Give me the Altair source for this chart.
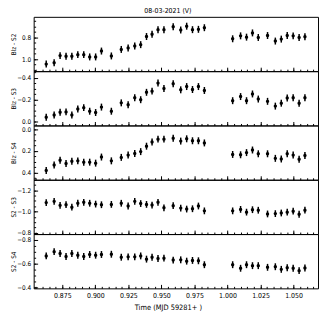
import altair as alt
import pandas as pd
import numpy as np

# Time (MJD 59281+)
T = [0.8628, 0.8688, 0.8733, 0.8778, 0.8822, 0.8867, 0.8912, 0.8957, 0.9002, 0.9046,
     0.9121, 0.9196, 0.9248, 0.9298, 0.9343, 0.9387, 0.9429, 0.9474, 0.9519, 0.9589,
     0.9646, 0.9691, 0.9735, 0.9780, 0.9825, 1.0039, 1.0099, 1.0144, 1.0189, 1.0233,
     1.0303, 1.0362, 1.0407, 1.0452, 1.0497, 1.0542, 1.0586]

BLZ_S2 = [1.045, 1.033, 0.967, 0.973, 0.973, 0.958, 0.958, 0.979, 0.979, 0.925,
          0.970, 0.910, 0.896, 0.878, 0.866, 0.791, 0.770, 0.728, 0.728, 0.701,
          0.731, 0.696, 0.728, 0.725, 0.710, 0.812, 0.785, 0.797, 0.758, 0.800,
          0.782, 0.833, 0.815, 0.782, 0.785, 0.800, 0.794]

BLZ_S3 = [-0.035, -0.056, -0.082, -0.085, -0.056, -0.112, -0.124, -0.091, -0.079, -0.129,
          -0.091, -0.168, -0.150, -0.215, -0.197, -0.265, -0.276, -0.350, -0.300, -0.344,
          -0.288, -0.318, -0.291, -0.318, -0.282, -0.188, -0.226, -0.188, -0.250, -0.203,
          -0.182, -0.138, -0.165, -0.212, -0.215, -0.165, -0.215]

BLZ_S4 = [0.379, 0.329, 0.285, 0.315, 0.294, 0.291, 0.303, 0.303, 0.312, 0.256,
          0.291, 0.259, 0.238, 0.224, 0.206, 0.156, 0.118, 0.091, 0.091, 0.082,
          0.109, 0.088, 0.106, 0.106, 0.126, 0.232, 0.235, 0.215, 0.191, 0.226,
          0.226, 0.268, 0.274, 0.226, 0.238, 0.276, 0.241]

S2_S3 = [-1.084, -1.096, -1.058, -1.064, -1.041, -1.078, -1.087, -1.078, -1.070, -1.064,
         -1.067, -1.078, -1.052, -1.096, -1.075, -1.067, -1.061, -1.087, -1.035, -1.055,
         -1.032, -1.023, -1.026, -1.052, -1.006, -1.006, -1.020, -0.994, -1.017, -1.012,
         -0.977, -0.980, -0.986, -0.994, -1.003, -0.974, -1.012]

S2_S4 = [-0.663, -0.699, -0.683, -0.658, -0.683, -0.669, -0.658, -0.675, -0.669, -0.675,
         -0.677, -0.652, -0.655, -0.655, -0.663, -0.636, -0.652, -0.641, -0.644, -0.628,
         -0.630, -0.619, -0.625, -0.622, -0.589, -0.589, -0.559, -0.589, -0.581, -0.581,
         -0.567, -0.572, -0.550, -0.564, -0.559, -0.539, -0.561]

LABELS = ["Blz - S2", "Blz - S3", "Blz - S4", "S2 - S3", "S2 - S4"]
SERIES = [BLZ_S2, BLZ_S3, BLZ_S4, S2_S3, S2_S4]
Y_DOMAINS = [[0.61, 1.11], [-0.46, 0.04], [-0.035, 0.465], [-1.30, -0.787], [-0.847, -0.39]]
Y_MAJOR = [[0.8, 1.0], [-0.4, -0.2, 0.0], [0.0, 0.2, 0.4], [-1.2, -1.0, -0.8], [-0.8, -0.6, -0.4]]
ERR = [0.032, 0.032, 0.032, 0.032, 0.029]

X_DOMAIN = [0.8533, 1.0685]
X_MAJOR = [0.875, 0.900, 0.925, 0.950, 0.975, 1.000, 1.025, 1.050]

TITLE = "08-03-2021  (V)"
X_TITLE = "Time (MJD 59281+ )"

FONT = "DejaVu Sans Condensed, DejaVu Sans"
W, H = 288, 55


def minor_ticks(lo, hi, step):
    a = np.ceil(lo / step - 1e-9) * step
    return [round(float(v), 4) for v in np.arange(a, hi + 1e-9, step)]


X_MINOR = minor_ticks(X_DOMAIN[0], X_DOMAIN[1], 0.005)


def panel(i):
    vals = SERIES[i]
    err = ERR[i]
    df = pd.DataFrame({"t": T, "v": vals})
    df["lo"] = df["v"] - err
    df["hi"] = df["v"] + err
    bottom = i == len(SERIES) - 1
    xs = alt.Scale(domain=X_DOMAIN, nice=False, zero=False)
    ys = alt.Scale(domain=Y_DOMAINS[i], reverse=True, nice=False, zero=False)
    ymin = minor_ticks(min(Y_DOMAINS[i]), max(Y_DOMAINS[i]), 0.05)

    common = dict(domain=False, grid=False, tickColor="black", labelColor="black",
                  labelFont=FONT, titleFont=FONT, titleColor="black")
    if bottom:
        xax1 = alt.Axis(orient="bottom", values=X_MAJOR, format=".3f", tickSize=4, offset=-4,
                        labelPadding=3, labelFontSize=7, title=X_TITLE, titleFontSize=7.5,
                        titleFontWeight="normal", titlePadding=5, titleX=W / 2 - 8, **common)
    else:
        xax1 = alt.Axis(orient="bottom", values=X_MAJOR, labels=False, tickSize=4, offset=-4,
                        title=None, **common)
    xax2 = alt.Axis(orient="bottom", values=X_MINOR, labels=False, tickSize=2, offset=-2,
                    title=None, **common)
    yax1 = alt.Axis(orient="left", values=Y_MAJOR[i], format=".1f", tickSize=4, offset=-4,
                    labelPadding=3, labelFontSize=6.5, title=LABELS[i], titleFontSize=6.5,
                    titleFontWeight="normal", titlePadding=0, minExtent=21, maxExtent=21,
                    **common)
    yax2 = alt.Axis(orient="left", values=ymin, labels=False, tickSize=2, offset=-2,
                    title=None, **common)

    bars = alt.Chart(df).mark_rule(color="black", strokeWidth=1.5).encode(
        x=alt.X("t:Q", scale=xs, axis=xax1),
        y=alt.Y("lo:Q", scale=ys, axis=yax1),
        y2="hi:Q",
    )
    pts = alt.Chart(df).mark_point(filled=True, shape="circle", size=12, color="black",
                                   opacity=1).encode(
        x=alt.X("t:Q", scale=xs, axis=xax2),
        y=alt.Y("v:Q", scale=ys, axis=yax2),
    )
    ch = alt.layer(bars, pts).resolve_axis(x="independent", y="independent").properties(
        width=W, height=H)
    if i == 0:
        ch = ch.properties(title=alt.TitleParams(TITLE, font=FONT, fontSize=7,
                                                 fontWeight="normal", color="black",
                                                 anchor="middle", dx=-8, offset=3))
    return ch


chart = alt.vconcat(*[panel(i) for i in range(len(SERIES))], spacing=0,
                    bounds="flush").resolve_scale(
    y="independent").properties(
    padding={"left": 2, "top": -4, "right": 0, "bottom": 0}
).configure_view(stroke="black", strokeWidth=1).configure_concat(spacing=0)

chart.save("out.html", embed_options={"renderer": "svg", "actions": False})
